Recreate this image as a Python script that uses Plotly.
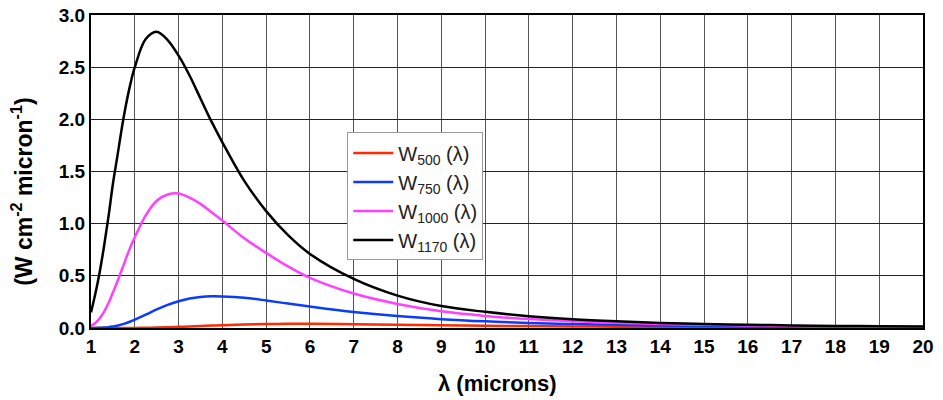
import plotly.graph_objects as go

# wavelengths (microns)
wl = [1, 1.1, 1.2, 1.3, 1.4, 1.5, 1.6, 1.75, 1.9, 2, 2.25, 2.5, 2.75, 3, 3.25,
      3.5, 3.75, 4, 4.5, 5, 5.5, 6, 7, 8, 9, 10, 11, 12, 13, 14, 15, 16, 17,
      18, 19, 20]

# spectral emittance (W cm^-2 micron^-1)
w500 = [0.0, 0.0, 0.0, 0.0, 0.0, 0.0, 0.0001, 0.0002, 0.0004, 0.0007, 0.002,
        0.004, 0.007, 0.011, 0.015, 0.019, 0.023, 0.027, 0.034, 0.038, 0.040,
        0.040, 0.037, 0.032, 0.027, 0.022, 0.018, 0.015, 0.012, 0.010, 0.008,
        0.007, 0.006, 0.005, 0.004, 0.004]
w750 = [0.0, 0.0003, 0.0017, 0.004, 0.008, 0.014, 0.022, 0.040, 0.062, 0.080,
        0.128, 0.178, 0.222, 0.257, 0.283, 0.298, 0.304, 0.303, 0.290, 0.264,
        0.234, 0.205, 0.153, 0.114, 0.085, 0.064, 0.049, 0.038, 0.030, 0.024,
        0.019, 0.015, 0.013, 0.010, 0.009, 0.007]
w1000 = [0.02, 0.048, 0.093, 0.157, 0.239, 0.34, 0.443, 0.61, 0.777, 0.87,
         1.08, 1.22, 1.28, 1.29, 1.25, 1.19, 1.11, 1.03, 0.86, 0.72, 0.59,
         0.48, 0.33, 0.23, 0.16, 0.116, 0.086, 0.065, 0.050, 0.039, 0.031,
         0.025, 0.020, 0.016, 0.013, 0.011]
w1170 = [0.15, 0.33, 0.54, 0.79, 1.07, 1.38, 1.64, 2.03, 2.34, 2.5, 2.77,
         2.84, 2.76, 2.61, 2.42, 2.2, 1.98, 1.78, 1.41, 1.12, 0.89, 0.71,
         0.47, 0.31, 0.21, 0.155, 0.113, 0.084, 0.064, 0.049, 0.039, 0.031,
         0.025, 0.020, 0.017, 0.014]

series = [
    ("W<sub>500</sub> (λ)", w500, "#ff2a00"),
    ("W<sub>750</sub> (λ)", w750, "#0a3cff"),
    ("W<sub>1000</sub> (λ)", w1000, "#ff40ff"),
    ("W<sub>1170</sub> (λ)", w1170, "#000000"),
]

x_ticks = list(range(1, 21))
y_ticks = [0.0, 0.5, 1.0, 1.5, 2.0, 2.5, 3.0]
x_title = "λ (microns)"
y_title = "(W cm<sup>-2</sup> micron<sup>-1</sup>)"

fig = go.Figure()
for name, vals, col in series:
    fig.add_trace(go.Scatter(x=wl, y=vals, name=name, mode="lines",
                             line=dict(color=col, width=2.5, shape="spline", smoothing=1.0)))

FAM = "Liberation Sans, Arial, sans-serif"
axis_font = dict(family=FAM, size=19, color="black", weight="bold")

fig.update_layout(
    width=943, height=400,
    margin=dict(l=91, r=20, t=15, b=72),
    paper_bgcolor="white", plot_bgcolor="white",
    showlegend=True,
    legend=dict(x=0.308, y=0.625, xanchor="left", yanchor="top",
                bgcolor="white", bordercolor="#999999", borderwidth=1,
                font=dict(family=FAM, size=20, color="#222"),
                tracegroupgap=0, itemwidth=40),
)
fig.update_xaxes(range=[1, 20], tickvals=x_ticks, ticktext=[str(v) for v in x_ticks],
                 showgrid=True, gridcolor="#555555", gridwidth=1,
                 showline=True, linecolor="black", linewidth=2, mirror=True,
                 ticks="", tickfont=axis_font, zeroline=False, automargin=False,
                 ticklabeloverflow="allow")
fig.update_yaxes(range=[0, 3], tickvals=y_ticks, tickformat=".1f",
                 showgrid=True, gridcolor="#222222", gridwidth=1,
                 showline=True, linecolor="black", linewidth=2, mirror=True,
                 ticks="", tickfont=axis_font, zeroline=False, automargin=False,
                 ticklabeloverflow="allow")

fig.add_annotation(text=x_title, xref="paper", yref="paper", x=0.488, y=-0.176,
                   xanchor="center", yanchor="middle", showarrow=False,
                   font=dict(family=FAM, size=22, color="black", weight="bold"))
fig.add_annotation(text=y_title, xref="paper", yref="paper", x=-0.083, y=0.435,
                   xanchor="center", yanchor="middle", showarrow=False, textangle=-90,
                   font=dict(family=FAM, size=23, color="black", weight="bold"))

fig.write_html("out.html", config={"displayModeBar": False},
               post_script="document.body.style.margin='0';document.body.style.overflow='hidden';")
